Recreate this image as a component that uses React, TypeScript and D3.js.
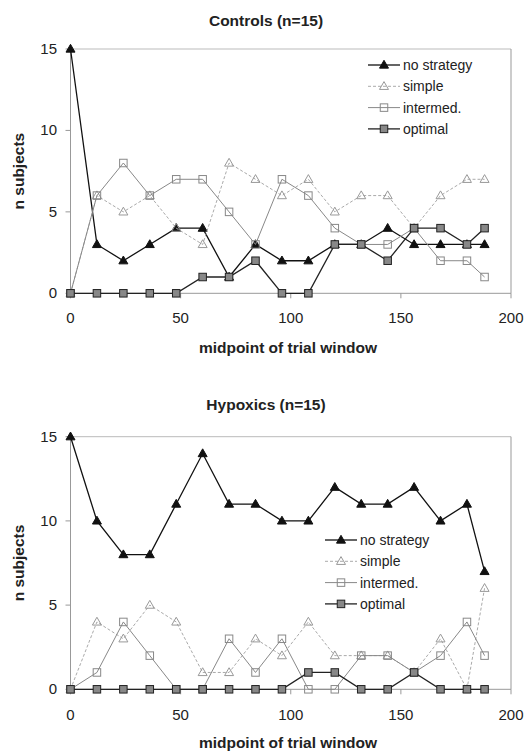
import React from 'react';
import * as d3 from 'd3';

const midpoints = [0, 12, 24, 36, 48, 60, 72, 84, 96, 108, 120, 132, 144, 156, 168, 180, 188];

const seriesNames = ['no strategy', 'simple', 'intermed.', 'optimal'];

const controlsNoStrategy = [15, 3, 2, 3, 4, 4, 1, 3, 2, 2, 3, 3, 4, 3, 3, 3, 3];
const controlsSimple = [0, 6, 5, 6, 4, 3, 8, 7, 6, 7, 5, 6, 6, 4, 6, 7, 7];
const controlsIntermed = [0, 6, 8, 6, 7, 7, 5, 3, 7, 6, 4, 3, 3, 4, 2, 2, 1];
const controlsOptimal = [0, 0, 0, 0, 0, 1, 1, 2, 0, 0, 3, 3, 2, 4, 4, 3, 4];

const hypoxicsNoStrategy = [15, 10, 8, 8, 11, 14, 11, 11, 10, 10, 12, 11, 11, 12, 10, 11, 7];
const hypoxicsSimple = [0, 4, 3, 5, 4, 1, 1, 3, 2, 4, 2, 2, 2, 1, 3, 0, 6];
const hypoxicsIntermed = [0, 1, 4, 2, 0, 0, 3, 1, 3, 0, 0, 2, 2, 1, 2, 4, 2];
const hypoxicsOptimal = [0, 0, 0, 0, 0, 0, 0, 0, 0, 1, 1, 0, 0, 1, 0, 0, 0];

const xTicks = [0, 50, 100, 150, 200];
const yTicks = [0, 5, 10, 15];

const FONT = '"Liberation Sans", Arial, sans-serif';

// line + marker look for each series, same order as seriesNames
const styles = [
  { line: '#111', width: 1.3, dash: null, marker: 'triangle', fill: '#111', stroke: '#111' },
  { line: '#aaa', width: 1, dash: '3,2', marker: 'triangle', fill: 'none', stroke: '#999' },
  { line: '#888', width: 1, dash: null, marker: 'square', fill: 'none', stroke: '#888' },
  { line: '#222', width: 1.3, dash: null, marker: 'square', fill: '#888', stroke: '#222' },
];

const Marker = ({ kind, cx, cy, fill, stroke }) => {
  if (kind === 'triangle') {
    const s = 9;
    const h = s * 0.87;
    const pts = `${cx},${cy - h * 0.6} ${cx - s / 2},${cy + h * 0.4} ${cx + s / 2},${cy + h * 0.4}`;
    return <polygon points={pts} fill={fill} stroke={stroke} strokeWidth={1} />;
  }
  const s = 7.5;
  return (
    <rect x={cx - s / 2} y={cy - s / 2} width={s} height={s} fill={fill} stroke={stroke} strokeWidth={1} />
  );
};

const Panel = ({ title, series, top, yTop, yBottom, legendX, legendY, tickY, labelY }) => {
  const x = d3.scaleLinear().domain([0, 200]).range([70.5, 511]);
  const y = d3.scaleLinear().domain([0, 15]).range([yBottom, yTop]);
  const line = d3
    .line()
    .x((d) => x(d[0]))
    .y((d) => y(d[1]));

  return (
    <g>
      <text x={266} y={top} textAnchor="middle" fontFamily={FONT} fontWeight="bold" fontSize={15.5} fill="#222">
        {title}
      </text>

      {/* frame */}
      <line x1={x(0)} x2={x(200)} y1={y(15)} y2={y(15)} stroke="#bbb" strokeWidth={1} />
      <line x1={x(200)} x2={x(200)} y1={y(15)} y2={y(0)} stroke="#999" strokeWidth={1} />
      <line x1={x(0)} x2={x(0)} y1={y(15)} y2={y(0)} stroke="#999" strokeWidth={1} />
      <line x1={x(0)} x2={x(200)} y1={y(0)} y2={y(0)} stroke="#999" strokeWidth={1} />

      {xTicks.map((t) => (
        <g key={'x' + t}>
          <line x1={x(t)} x2={x(t)} y1={y(0)} y2={y(0) + 5} stroke="#999" />
          <text x={x(t)} y={tickY} textAnchor="middle" fontFamily={FONT} fontSize={15} fill="#222">
            {t}
          </text>
        </g>
      ))}
      {yTicks.map((t) => (
        <g key={'y' + t}>
          <line x1={x(0) - 5} x2={x(0)} y1={y(t)} y2={y(t)} stroke="#999" />
          <text x={57} y={y(t) + 5} textAnchor="end" fontFamily={FONT} fontSize={15} fill="#222">
            {t}
          </text>
        </g>
      ))}

      <text
        transform={`translate(24,${(y(0) + y(15)) / 2}) rotate(-90)`}
        textAnchor="middle"
        fontFamily={FONT}
        fontWeight="bold"
        fontSize={15.5}
        fill="#222"
      >
        n subjects
      </text>
      <text x={288} y={labelY} textAnchor="middle" fontFamily={FONT} fontWeight="bold" fontSize={15.5} fill="#222">
        midpoint of trial window
      </text>

      {series.map((vals, i) => {
        const st = styles[i];
        const pts = midpoints.map((m, j) => [m, vals[j]]);
        return (
          <g key={seriesNames[i]}>
            <path d={line(pts)} fill="none" stroke={st.line} strokeWidth={st.width} strokeDasharray={st.dash} />
            {pts.map((p, j) => (
              <Marker key={j} kind={st.marker} cx={x(p[0])} cy={y(p[1])} fill={st.fill} stroke={st.stroke} />
            ))}
          </g>
        );
      })}

      {/* legend */}
      {seriesNames.map((name, i) => {
        const st = styles[i];
        const ly = legendY + i * 21.3;
        return (
          <g key={'leg' + name}>
            <line x1={legendX} x2={legendX + 32} y1={ly} y2={ly} stroke={st.line} strokeWidth={st.width} strokeDasharray={st.dash} />
            <Marker kind={st.marker} cx={legendX + 16} cy={ly} fill={st.fill} stroke={st.stroke} />
            <text x={legendX + 35} y={ly + 5} fontFamily={FONT} fontSize={14} fill="#222">
              {name}
            </text>
          </g>
        );
      })}
    </g>
  );
};

export default function App() {
  return (
    <svg
      width={531}
      height={751}
      style={{ position: 'absolute', left: 0, top: 0, background: '#fff' }}
    >
      <rect width={531} height={751} fill="#fff" />
      <Panel
        title="Controls (n=15)"
        series={[controlsNoStrategy, controlsSimple, controlsIntermed, controlsOptimal]}
        top={26}
        yTop={49}
        yBottom={293.3}
        legendX={368}
        legendY={65}
        tickY={323}
        labelY={353}
      />
      <Panel
        title="Hypoxics (n=15)"
        series={[hypoxicsNoStrategy, hypoxicsSimple, hypoxicsIntermed, hypoxicsOptimal]}
        top={410}
        yTop={436.7}
        yBottom={689.3}
        legendX={325}
        legendY={540}
        tickY={720}
        labelY={748}
      />
    </svg>
  );
}
